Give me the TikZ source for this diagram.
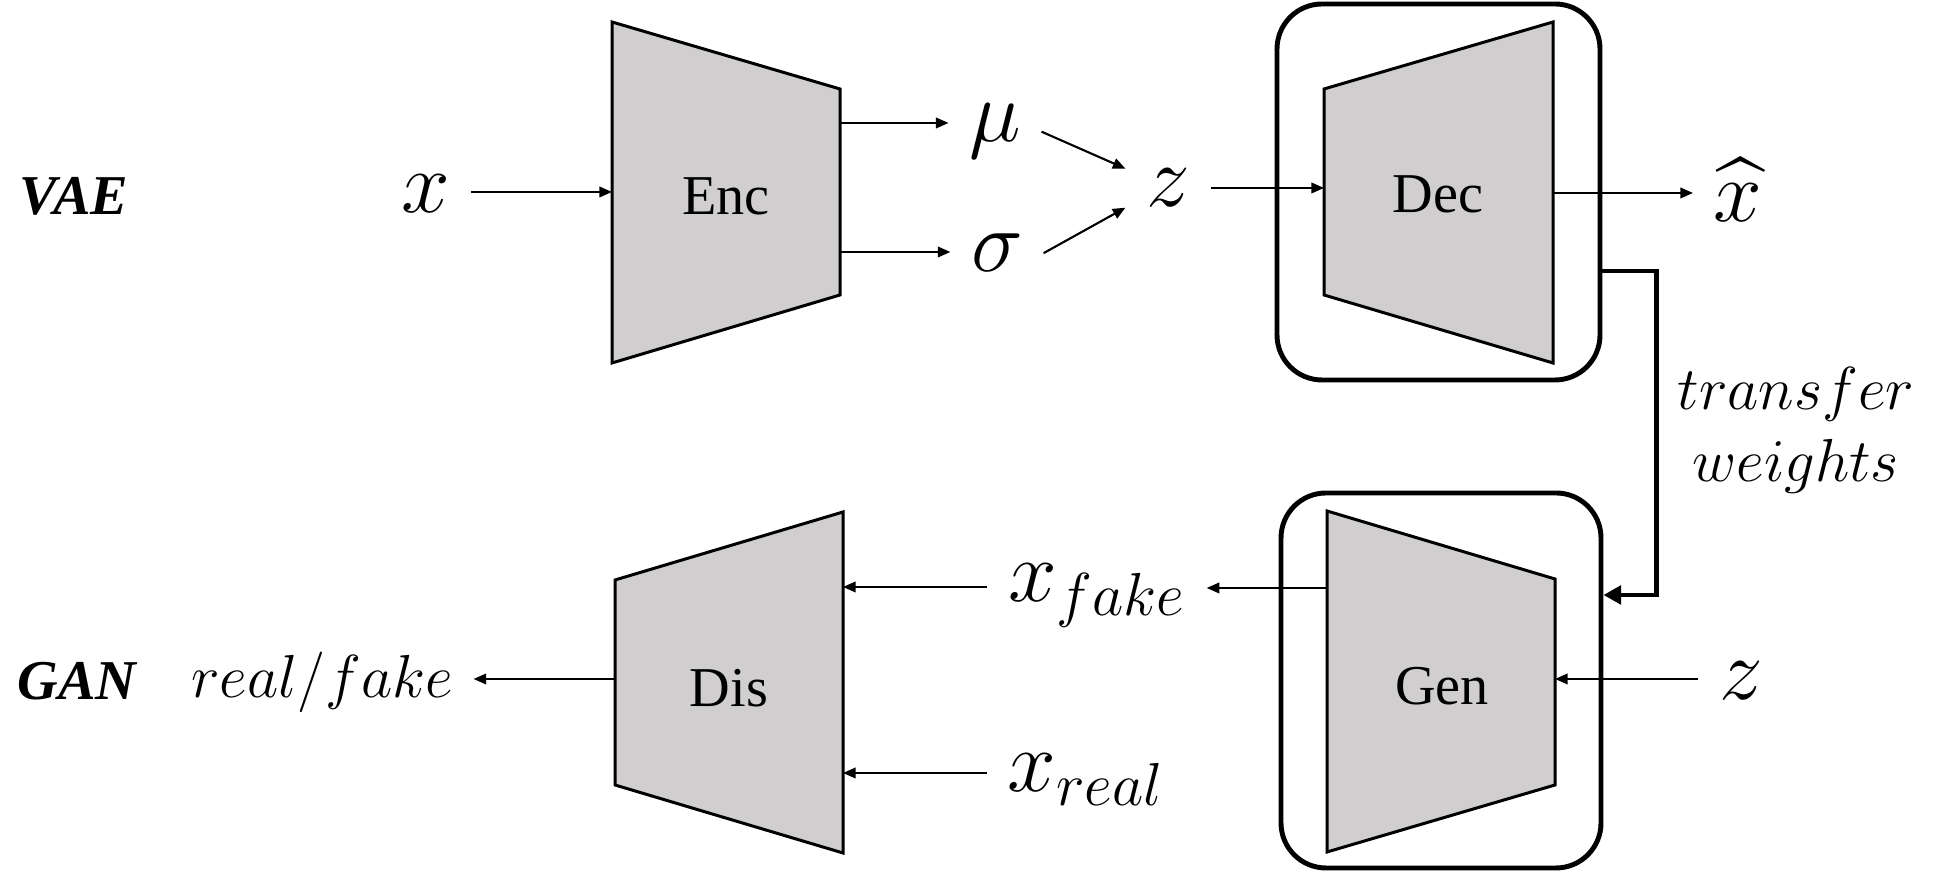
\documentclass[tikz,border=0pt]{standalone}
\usepackage{amsmath}
\usepackage{fontspec}
\setmainfont{Liberation Serif}
\usetikzlibrary{arrows.meta}
\definecolor{blockgray}{RGB}{208,206,206}

\begin{document}
\begin{tikzpicture}[
    block/.style={draw, fill=blockgray, line width=0.85pt},
    wrapbox/.style={draw, line width=1.4pt, rounded corners=0.45cm, inner sep=0pt},
    blocktext/.style={inner sep=0pt, font=\fontsize{16}{19}\selectfont},
    rowtext/.style={inner sep=0pt, font=\fontsize{16}{19}\selectfont\bfseries\itshape},
    lbl/.style={inner xsep=0.2cm, inner ysep=0pt, font=\fontsize{25}{30}\selectfont},
    smalllbl/.style={inner xsep=0.2cm, inner ysep=0pt, font=\fontsize{17}{20.5}\selectfont},
    arr/.style={-{Triangle[length=3.6pt, width=3pt]}, line width=0.6pt},
    transfer/.style={-{Triangle[length=5pt, width=5.2pt]}, line width=1.4pt}
]
    \useasboundingbox (0,0) rectangle (19.37,8.73);

    % rounded frames round decoder and generator
    \node[wrapbox, minimum width=3.23cm, minimum height=3.76cm] (decbox) at (14.385,6.81) {};
    \node[wrapbox, minimum width=3.20cm, minimum height=3.75cm] (genbox) at (14.41,1.925) {};

    % the four networks
    \draw[block] (6.12,8.51) -- (8.40,7.84) -- (8.40,5.78) -- (6.12,5.10) -- cycle;
    \draw[block] (13.24,7.84) -- (15.53,8.51) -- (15.53,5.10) -- (13.24,5.78) -- cycle;
    \draw[block] (6.15,2.93) -- (8.43,3.61) -- (8.43,0.20) -- (6.15,0.88) -- cycle;
    \draw[block] (13.27,3.62) -- (15.55,2.94) -- (15.55,0.88) -- (13.27,0.21) -- cycle;

    \node[blocktext, anchor=base] (enc) at (7.26,6.58) {Enc};
    \node[blocktext, anchor=base] (dec) at (14.38,6.60) {Dec};
    \node[blocktext, anchor=base] (dis) at (7.29,1.66) {Dis};
    \node[blocktext, anchor=base] (gen) at (14.42,1.68) {Gen};

    \coordinate (enc-in) at (6.12,6.81);
    \coordinate (enc-mu) at (8.40,7.50);
    \coordinate (enc-sig) at (8.40,6.21);
    \coordinate (dec-in) at (13.24,6.85);
    \coordinate (dec-out) at (15.53,6.80);
    \coordinate (gen-out) at (13.27,2.85);
    \coordinate (gen-in) at (15.55,1.94);
    \coordinate (dis-fake) at (8.43,2.86);
    \coordinate (dis-real) at (8.43,1.00);
    \coordinate (dis-out) at (6.15,1.94);

    % labels
    \node[rowtext, anchor=base] (vae) at (0.74,6.58) {VAE};
    \node[rowtext, anchor=base] (gan) at (0.77,1.73) {GAN};
    \node[lbl, anchor=base] (x) at (4.26,6.60) {$x$};
    \node[lbl, anchor=base] (mu) at (9.95,7.31) {$\mu$};
    \node[lbl, anchor=base] (sigma) at (9.97,6.01) {$\sigma$};
    \node[lbl, anchor=base] (z) at (11.68,6.66) {$z$};
    \node[lbl, anchor=base] (xhat) at (17.38,6.51) {$\widehat{x}$};
    \node[lbl, anchor=base] (xfake) at (10.97,2.71) {$x_{fake}$};
    \node[lbl, anchor=base] (xreal) at (10.86,0.81) {$x_{real}$};
    \node[lbl, anchor=base] (zg) at (17.41,1.73) {$z$};
    \node[smalllbl, anchor=base] (rf) at (3.22,1.75) {$real/fake$};
    \node[smalllbl, align=center] (tw) at (17.96,4.43) {$transfer$\\$weights$};

    % VAE connectors
    \draw[arr] (x.east |- enc-in) -- (enc-in);
    \draw[arr] (enc-mu) -- (enc-mu -| mu.west);
    \draw[arr] (enc-sig) -- (enc-sig -| sigma.west);
    \draw[arr] (mu.east) -- (z.north west);
    \draw[arr] (sigma.east) -- (z.south west);
    \draw[arr] (z.east |- dec-in) -- (dec-in);
    \draw[arr] (dec-out) -- (dec-out -| xhat.west);

    % GAN connectors
    \draw[arr] (zg.west |- gen-in) -- (gen-in);
    \draw[arr] (gen-out) -- (gen-out -| xfake.east);
    \draw[arr] (xfake.west |- dis-fake) -- (dis-fake);
    \draw[arr] (xreal.west |- dis-real) -- (dis-real);
    \draw[arr] (dis-out) -- (dis-out -| rf.east);

    \draw[transfer] ([yshift=-0.79cm]decbox.east) -- ++(0.54,0) |- ([yshift=0.855cm]genbox.east);
\end{tikzpicture}
\end{document}
